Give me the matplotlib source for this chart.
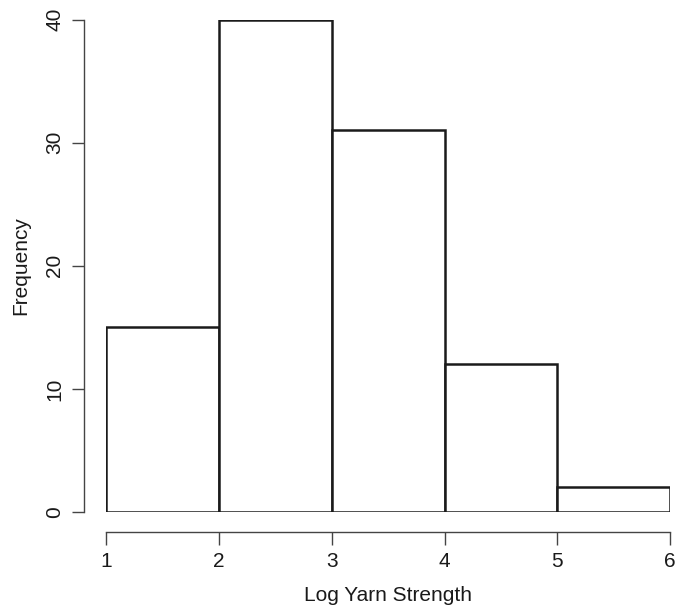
import matplotlib
matplotlib.use("Agg")
import matplotlib.pyplot as plt
import numpy as np

# Histogram data: bin edges and counts
bin_edges = [1, 2, 3, 4, 5, 6]
counts = [15, 40, 31, 12, 2]
x_ticks = [1, 2, 3, 4, 5, 6]
y_ticks = [0, 10, 20, 30, 40]

plt.rcParams['font.family'] = ['Liberation Sans', 'DejaVu Sans']

fig = plt.figure(figsize=(6.77, 6.11), dpi=100)
ax = fig.add_axes([0.1566, 0.162, 0.8334, 0.806])

# Bars like R's hist()
ax.bar(bin_edges[:-1], counts, width=np.diff(bin_edges), align='edge',
       facecolor='white', edgecolor='#1a1a1a', linewidth=1.8)

ax.set_xlim(1, 6)
ax.set_ylim(0, 40)

# R-style detached axes
for s in ['top', 'right']:
    ax.spines[s].set_visible(False)
ax.spines['left'].set_position(('outward', 16))
ax.spines['bottom'].set_position(('outward', 14.5))
ax.spines['left'].set_bounds(0, 40)
ax.spines['bottom'].set_bounds(1, 6)
for s in ['left', 'bottom']:
    ax.spines[s].set_color('#444444')
    ax.spines[s].set_linewidth(1.0)

ax.set_xticks(x_ticks)
ax.set_yticks(y_ticks)
ax.tick_params(axis='both', length=9, width=1.0, color='#444444',
               labelsize=15, labelcolor='#1a1a1a')
ax.tick_params(axis='x', pad=5)
ax.tick_params(axis='y', pad=5)
for lab in ax.get_yticklabels():
    lab.set_rotation(90)
    lab.set_va('center')

ax.set_xlabel('Log Yarn Strength', fontsize=15, color='#1a1a1a', labelpad=11)
ax.set_ylabel('Frequency', fontsize=15, color='#1a1a1a', labelpad=11)

plt.savefig('out.png', dpi=100)
plt.close('all')
